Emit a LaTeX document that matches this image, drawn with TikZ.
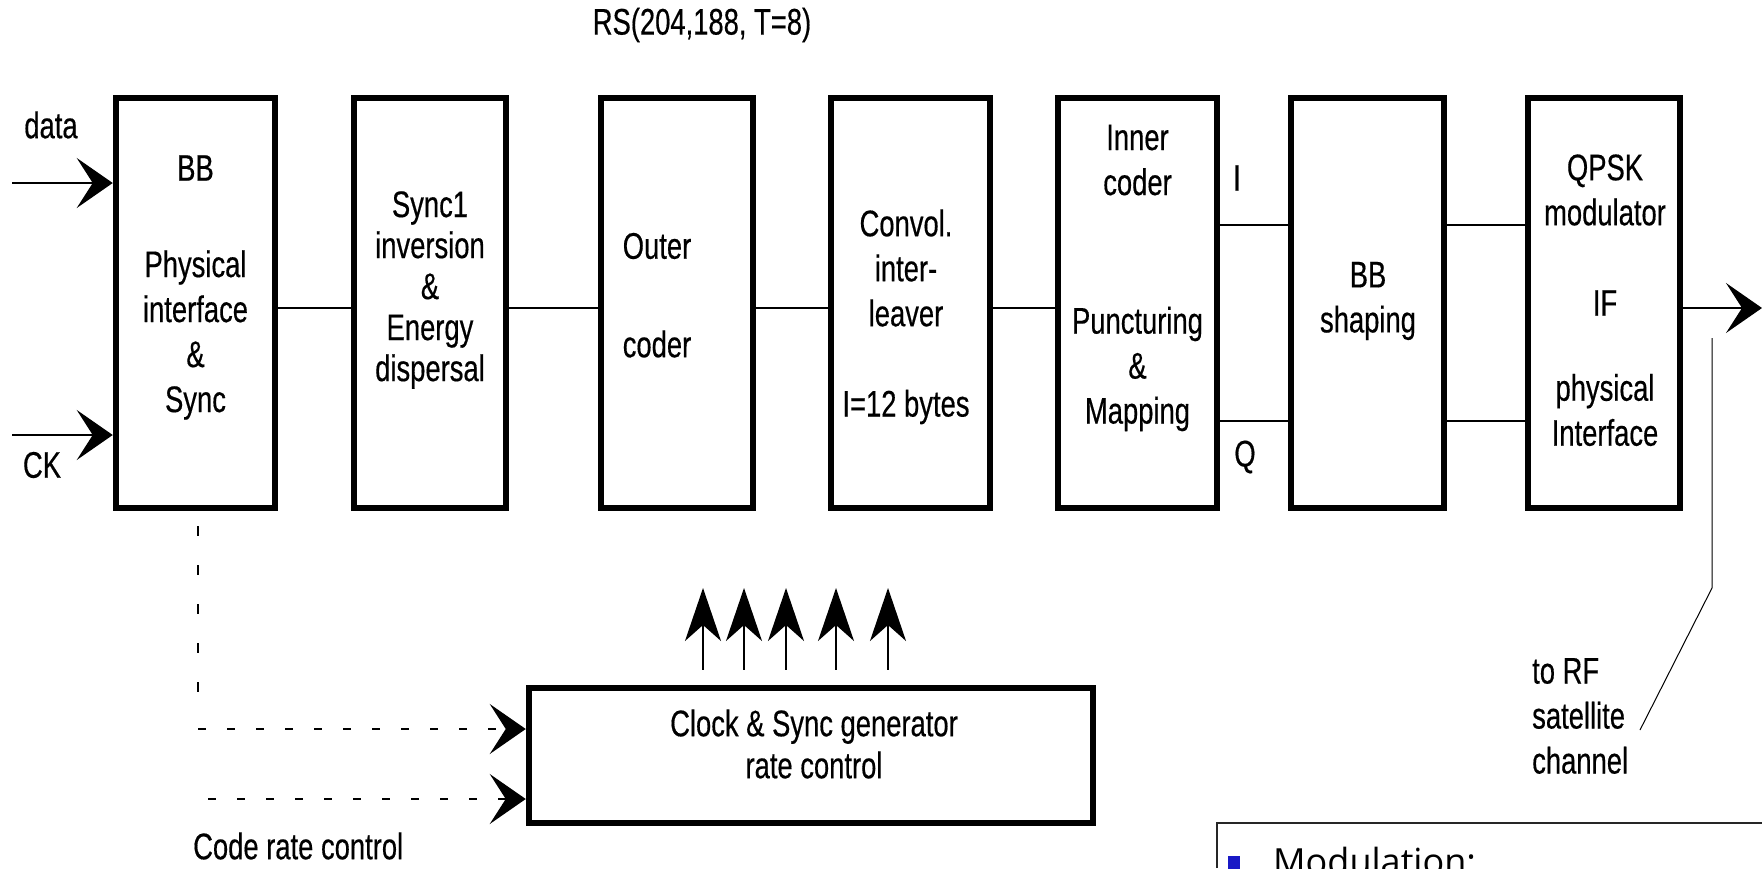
\documentclass[tikz,border=0pt]{standalone}
\usepackage{fontspec}
\setmainfont{Liberation Sans}[FakeStretch=0.74, FakeBold=0.4]
\newfontfamily\slidefont{Open Sans}
\usetikzlibrary{arrows.meta}

\begin{document}
\begin{tikzpicture}[
    x=1pt, y=-1pt,
    block/.style={
        draw,
        line width=6.5pt,
        minimum height=410pt,
        inner sep=0pt
    },
    textline/.style={
        font=\fontsize{37}{45}\selectfont,
        align=center,
        inner sep=0pt
    },
    wire/.style={
        line width=1.3pt
    },
    feed/.style={
        wire,
        -{Stealth[length=36pt, width=50pt, inset=16pt]}
    },
    tick/.style={
        wire,
        -{Stealth[length=53pt, width=36pt, inset=16pt]}
    },
    control/.style={
        feed,
        dash pattern=on 8pt off 21pt
    },
    note/.style={
        line width=1.2pt,
        draw=black!85
    }
]

% Vertical positions
\def\BoxY{303}
\def\MidY{308}

\useasboundingbox (0,0) rectangle (1762,868);

% ==================================================
% Processing chain
% ==================================================

\node[block, minimum width=159pt] (bb) at (195.5,\BoxY) {};
\node[block, minimum width=152pt] (sync) at (430,\BoxY) {};
\node[block, minimum width=152pt] (outer) at (677,\BoxY) {};
\node[block, minimum width=159pt] (convol) at (910.5,\BoxY) {};
\node[block, minimum width=159pt] (inner) at (1137.5,\BoxY) {};
\node[block, minimum width=153pt] (shaping) at (1367.5,\BoxY) {};
\node[block, minimum width=152pt] (qpsk) at (1604,\BoxY) {};

\node[textline] (bbT) at (195.5,168) {BB};
\node[textline] (bbB) at (195.5,335) {Physical\\interface\\\&\\Sync};

\node[textline, font=\fontsize{37}{41}\selectfont] (syncT) at (430,290)
    {Sync1\\inversion\\\&\\Energy\\dispersal};

\node[textline] (outerT) at (657,246) {Outer};
\node[textline] (outerB) at (657,344) {coder};

\node[textline] (convolT) at (906,268) {Convol.\\inter-\\leaver};
\node[textline] (convolB) at (906,407) {I=12 bytes};

\node[textline] (innerT) at (1137.5,160) {Inner\\coder};
\node[textline] (innerB) at (1137.5,369) {Puncturing\\\&\\Mapping};

\node[textline] (shapingT) at (1368,301) {BB\\shaping};

\node[textline] (qpskT) at (1605,190) {QPSK\\modulator};
\node[textline] (qpskM) at (1605,303) {IF};
\node[textline] (qpskB) at (1605,410) {physical\\Interface};

\node[textline] (rs) at (702,25) {RS(204,188, T=8)};

% ==================================================
% Signals between the blocks
% ==================================================

\coordinate (mid) at (0,\MidY);
\coordinate (iy) at (0,225);
\coordinate (qy) at (0,421);

\draw[wire] (bb.east |- mid) -- (sync.west |- mid);
\draw[wire] (sync.east |- mid) -- (outer.west |- mid);
\draw[wire] (outer.east |- mid) -- (convol.west |- mid);
\draw[wire] (convol.east |- mid) -- (inner.west |- mid);
\draw[wire] (inner.east |- iy) -- (shaping.west |- iy);
\draw[wire] (inner.east |- qy) -- (shaping.west |- qy);
\draw[wire] (shaping.east |- iy) -- (qpsk.west |- iy);
\draw[wire] (shaping.east |- qy) -- (qpsk.west |- qy);

\node[textline] (ilabel) at (1237,178) {I};
\node[textline] (qlabel) at (1245,457) {Q};

% Inputs and output
\coordinate (din) at (12,183);
\coordinate (ckin) at (12,435);
\coordinate (rfout) at (1762,\MidY);

\draw[feed] (din) -- (bb.west |- din);
\draw[feed] (ckin) -- (bb.west |- ckin);
\draw[feed] (qpsk.east |- mid) -- (rfout);

\node[textline] (data) at (51,125) {data};
\node[textline] (ck) at (42,465) {CK};

% Leader to the RF label
\coordinate (rfA) at (1712,338);
\coordinate (rfB) at (1712,588);
\coordinate (rfC) at (1640,730);
\draw[wire, line width=1pt] (rfA) -- (rfB) -- (rfC);

\node[textline, align=left, anchor=west] (rf) at (1532,716)
    {to RF\\satellite\\channel};

% ==================================================
% Clock and rate control
% ==================================================

\node[block, minimum width=564pt, minimum height=135pt] (clk) at (811,755.5) {};
\node[textline, font=\fontsize{37}{42}\selectfont] (clkT) at (814,744)
    {Clock \& Sync generator\\rate control};

\foreach \x [count=\i] in {703,744,786,836,888}{
    \coordinate (up\i) at (\x,588);
    \draw[tick] (clk.north -| up\i) ++(0,-15) -- (up\i);
}

\coordinate (dv) at (198,729);
\coordinate (dvEnd) at (198,712);
\coordinate (crc) at (208,799);
\draw[wire, dash pattern=on 10pt off 29pt] (bb.south -| dv) ++(0,15) -- (dvEnd);
\draw[control] (dv) -- (clk.west |- dv);
\draw[control] (crc) -- (clk.west |- crc);

\node[textline, anchor=west] (crcT) at (193,846) {Code rate control};

% ==================================================
% Slide text box (cut off)
% ==================================================

\coordinate (boxA) at (1217,868);
\coordinate (boxB) at (1762,823);
\draw[note] (boxA) |- (boxB);
\fill[blue!75!black!90] (1228,856) rectangle (1240,872);
\node[anchor=base west, inner sep=0pt, font=\slidefont\fontsize{36}{40}\selectfont]
    (modT) at (1273,874) {Modulation:};

\end{tikzpicture}
\end{document}
